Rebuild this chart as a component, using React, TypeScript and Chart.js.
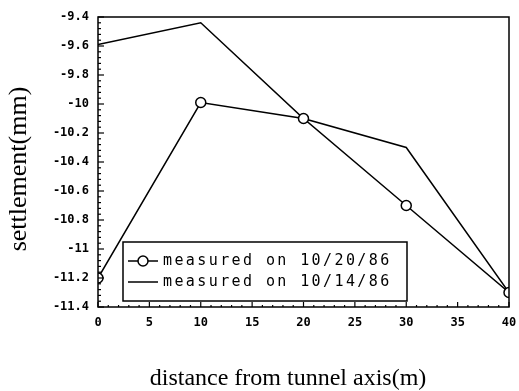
import React, { useEffect, useRef } from "react";
import { Chart, registerables } from "chart.js";

Chart.register(...registerables);

const distances = [0, 10, 20, 30, 40];
const measured1020 = [-11.2, -9.99, -10.1, -10.7, -11.3];
const measured1014 = [-9.59, -9.44, -10.1, -10.3, -11.3];
const seriesLabels = ["measured on 10/20/86", "measured on 10/14/86"];
const xTitle = "distance from tunnel axis(m)";
const yTitle = "settlement(mm)";
const yTickRange = { min: -11.4, max: -9.4, step: 0.2, minorDiv: 5 };
const xTickRange = { min: 0, max: 40, step: 5, minorDiv: 5 };

const TITLE_FONT_FAMILY = "'Liberation Serif', 'DejaVu Serif', serif";

const framePlugin = {
  id: "frame",
  afterDraw(chart: any) {
    const { ctx, chartArea: a, scales } = chart;
    ctx.save();
    ctx.strokeStyle = "#000";
    ctx.lineWidth = 1.5;
    ctx.strokeRect(a.left, a.top, a.right - a.left, a.bottom - a.top);
    ctx.lineWidth = 1.2;
    const ys = scales.y;
    const nY = Math.round((yTickRange.max - yTickRange.min) / yTickRange.step) * yTickRange.minorDiv;
    for (let i = 0; i <= nY; i++) {
      const v = yTickRange.min + (i * yTickRange.step) / yTickRange.minorDiv;
      const py = ys.getPixelForValue(v);
      const len = i % yTickRange.minorDiv === 0 ? 6 : 3;
      ctx.beginPath();
      ctx.moveTo(a.left, py);
      ctx.lineTo(a.left + len, py);
      ctx.stroke();
    }
    const xs = scales.x;
    const nX = Math.round((xTickRange.max - xTickRange.min) / xTickRange.step) * xTickRange.minorDiv;
    for (let i = 0; i <= nX; i++) {
      const v = xTickRange.min + (i * xTickRange.step) / xTickRange.minorDiv;
      const px = xs.getPixelForValue(v);
      const len = i % xTickRange.minorDiv === 0 ? 5 : 2;
      ctx.beginPath();
      ctx.moveTo(px, a.bottom);
      ctx.lineTo(px, a.bottom - len);
      ctx.stroke();
    }

    // axis titles
    ctx.fillStyle = "#000";
    ctx.font = `24px ${TITLE_FONT_FAMILY}`;
    ctx.textAlign = "center";
    ctx.textBaseline = "alphabetic";
    ctx.fillText(xTitle, 288, 385);
    ctx.save();
    ctx.translate(26, 169);
    ctx.rotate(-Math.PI / 2);
    ctx.font = `26px ${TITLE_FONT_FAMILY}`;
    ctx.fillText(yTitle, 0, 0);
    ctx.restore();

    // legend
    const bx = 123, by = 242, bw = 284, bh = 59;
    ctx.fillStyle = "#fff";
    ctx.fillRect(bx, by, bw, bh);
    ctx.lineWidth = 1.5;
    ctx.strokeRect(bx, by, bw, bh);
    const rows = [261, 282];
    chart.data.datasets.forEach((ds: any, i: number) => {
      const ry = rows[i];
      ctx.lineWidth = 1.5;
      ctx.strokeStyle = "#000";
      ctx.beginPath();
      ctx.moveTo(128, ry);
      ctx.lineTo(158, ry);
      ctx.stroke();
      if (ds.pointRadius > 0) {
        ctx.beginPath();
        ctx.arc(143, ry, 5, 0, Math.PI * 2);
        ctx.fillStyle = "#fff";
        ctx.fill();
        ctx.stroke();
      }
      ctx.fillStyle = "#000";
      ctx.font = "15px 'DejaVu Sans Mono'";
      (ctx as any).letterSpacing = "2.4px";
      ctx.textBaseline = "middle";
      ctx.textAlign = "left";
      ctx.fillText(ds.label, 163, ry);
      (ctx as any).letterSpacing = "0px";
    });
    ctx.restore();
  },
};

export default function App() {
  const ref = useRef<HTMLCanvasElement>(null);
  useEffect(() => {
    if (!ref.current) return;
    const chart = new Chart(ref.current, {
      type: "line",
      data: {
        datasets: [
          {
            label: seriesLabels[0],
            data: distances.map((x, i) => ({ x, y: measured1020[i] })),
            borderColor: "#000",
            borderWidth: 1.5,
            pointRadius: 5,
            pointBackgroundColor: "#fff",
            pointBorderColor: "#000",
            pointBorderWidth: 1.5,
            tension: 0,
          },
          {
            label: seriesLabels[1],
            data: distances.map((x, i) => ({ x, y: measured1014[i] })),
            borderColor: "#000",
            borderWidth: 1.5,
            pointRadius: 0,
            tension: 0,
          },
        ],
      },
      options: {
        animation: false,
        responsive: false,
        events: [],
        layout: { padding: { top: 17, right: 10, left: 0, bottom: 0 } },
        plugins: { legend: { display: false }, tooltip: { enabled: false } },
        scales: {
          x: {
            type: "linear",
            min: xTickRange.min,
            max: xTickRange.max,
            ticks: {
              stepSize: xTickRange.step,
              color: "#000",
              padding: 9,
              maxRotation: 0,
              font: { family: "'DejaVu Sans Mono'", size: 12, weight: "bold" },
            },
            grid: { display: false, drawTicks: false },
            border: { display: false },
            title: { display: false },
            afterFit: (s: any) => {
              s.height = 84;
              s.paddingLeft = 0;
              s.paddingRight = 0;
            },
          },
          y: {
            min: yTickRange.min,
            max: yTickRange.max,
            ticks: {
              stepSize: yTickRange.step,
              color: "#000",
              padding: 9,
              font: { family: "'DejaVu Sans Mono'", size: 12, weight: "bold" },
              callback: (v: any) => String(Math.round(Number(v) * 10) / 10),
            },
            grid: { display: false, drawTicks: false },
            border: { display: false },
            title: { display: false },
            afterFit: (s: any) => {
              s.width = 98;
              s.paddingTop = 0;
              s.paddingBottom = 0;
            },
          },
        },
      },
      plugins: [framePlugin],
    });
    return () => chart.destroy();
  }, []);
  return (
    <div style={{ position: "absolute", left: 0, top: 0, width: 519, height: 391, background: "#fff" }}>
      <canvas ref={ref} width={519} height={391} />
    </div>
  );
}
